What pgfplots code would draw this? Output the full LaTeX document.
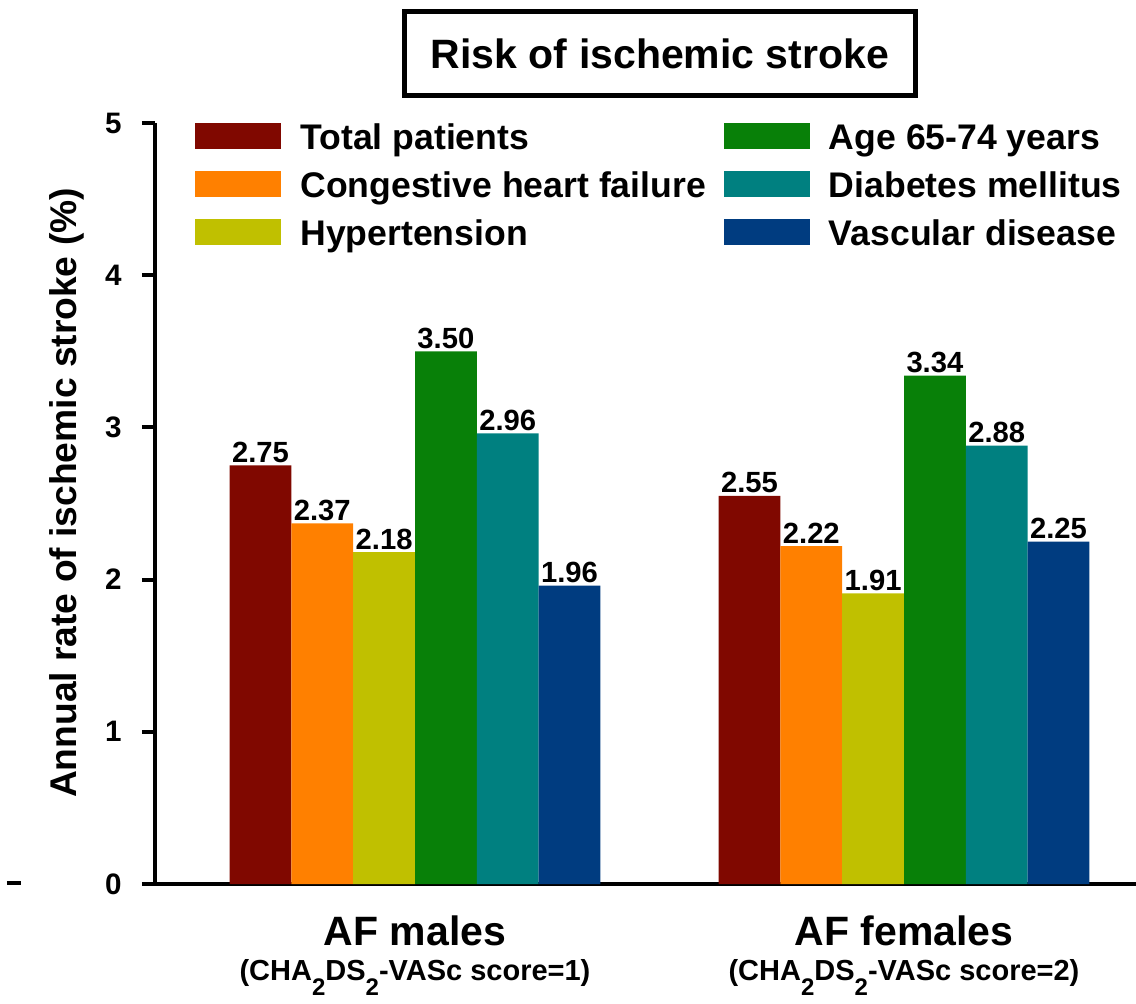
\documentclass[border=0pt]{standalone}
\usepackage{fontspec}
\setmainfont{Liberation Sans}
\usepackage{pgfplots}
\usepackage{pgfplotstable}
\pgfplotsset{compat=1.18}

\definecolor{cTotal}{RGB}{128,8,0}
\definecolor{cCHF}{RGB}{255,128,0}
\definecolor{cHTN}{RGB}{192,192,0}
\definecolor{cAge}{RGB}{8,128,8}
\definecolor{cDM}{RGB}{0,128,128}
\definecolor{cVasc}{RGB}{0,60,128}

\newcommand\fs[2]{\fontsize{#1}{#2}\selectfont\bfseries}
\newcommand\sub[1]{\raisebox{-7.5pt}{\fontsize{12pt}{14pt}\selectfont #1}}

% annual rate of ischemic stroke (%), per group and risk factor
\pgfplotstableread{
x total chf htn age dm vasc
0 2.75 2.37 2.18 3.50 2.96 1.96
1 2.55 2.22 1.91 3.34 2.88 2.25
}\strokedata

\pgfplotsset{
  legsq/.style={fill=#1, draw=none,
    legend image code/.code={\fill[#1] (0pt,0pt) rectangle (43pt,13pt);}},
}

\begin{document}
\begin{tikzpicture}
\useasboundingbox (-77.5pt,-59.5pt) rectangle (490.5pt,442pt);
\begin{axis}[
  at={(0pt,0pt)}, anchor=south west,
  scale only axis, width=490.5pt, height=380.5pt,
  xmin=-0.5317, xmax=1.4744, ymin=0, ymax=5,
  clip=false,
  axis x line=bottom, axis y line=left,
  axis line style={line width=2pt, -},
  /pgf/number format/assume math mode=true,
  ytick={0,1,2,3,4,5},
  ytick align=outside, xtick align=inside,
  major tick length=6.5pt,
  ytick style={line width=2pt, black},
  xtick style={draw=none},
  yticklabel style={anchor=east, inner sep=0pt, xshift=-10pt, font=\fs{14.8pt}{17pt}},
  xtick={0,1}, xticklabels={AF males, AF females},
  xticklabel style={anchor=base, inner sep=0pt, yshift=-24pt, font=\fs{20.5pt}{24pt}},
  ybar=0pt, bar width=30.9pt,
  nodes near coords={\pgfmathprintnumber[fixed,fixed zerofill,precision=2]{\pgfplotspointmeta}},
  nodes near coords style={anchor=base, inner sep=0pt, yshift=1.5pt, font=\fs{14.6pt}{17pt}},
  legend columns=2,
  legend cell align=left,
  legend style={at={(axis description cs:0.04077,1.0053)}, anchor=north west,
    draw=none, fill=none, inner sep=0pt, row sep=5.5pt,
    cells={anchor=base west, inner sep=0pt, text height=13pt, text depth=4pt},
    font=\fs{17.8pt}{20pt},
    /tikz/every odd column/.append style={column sep=7.5pt},
    /tikz/every even column/.append style={column sep=7pt}},
]
% legend entries, in reading order of the two columns
\addlegendimage{legsq=cTotal}\addlegendentry{Total patients}
\addlegendimage{legsq=cAge}\addlegendentry{Age 65-74 years}
\addlegendimage{legsq=cCHF}\addlegendentry{Congestive heart failure}
\addlegendimage{legsq=cDM}\addlegendentry{Diabetes mellitus}
\addlegendimage{legsq=cHTN}\addlegendentry{Hypertension}
\addlegendimage{legsq=cVasc}\addlegendentry{Vascular disease}

\addplot[fill=cTotal, draw=none, bar shift=-77.25pt] table[x=x, y=total] {\strokedata};
\addplot[fill=cCHF,   draw=none, bar shift=-46.35pt] table[x=x, y=chf]   {\strokedata};
\addplot[fill=cHTN,   draw=none, bar shift=-15.45pt] table[x=x, y=htn]   {\strokedata};
\addplot[fill=cAge,   draw=none, bar shift=15.45pt]  table[x=x, y=age]   {\strokedata};
\addplot[fill=cDM,    draw=none, bar shift=46.35pt]  table[x=x, y=dm]    {\strokedata};
\addplot[fill=cVasc,  draw=none, bar shift=77.25pt]  table[x=x, y=vasc]  {\strokedata};
\end{axis}

% boxed title
\node[draw, line width=2.5pt, minimum width=255.5pt, minimum height=42pt,
      inner sep=0pt, font=\fs{20.5pt}{24pt}] at (252.5pt,415.25pt) {Risk of ischemic stroke};
% y axis title
\node[rotate=90, anchor=base, font=\fs{18.6pt}{22pt}] at (-39pt,195.5pt)
  {Annual rate of ischemic stroke (\%)};
% score lines under the group names
\node[anchor=base, font=\fs{14.5pt}{17pt}] at (130pt,-48pt)
  {(CHA\sub{2}DS\sub{2}-VASc score=1)};
\node[anchor=base, font=\fs{14.5pt}{17pt}] at (374.5pt,-48pt)
  {(CHA\sub{2}DS\sub{2}-VASc score=2)};
% short dash at the left margin
\draw[line width=2pt] (-74pt,0.5pt) -- (-67pt,0.5pt);
\end{tikzpicture}
\end{document}
